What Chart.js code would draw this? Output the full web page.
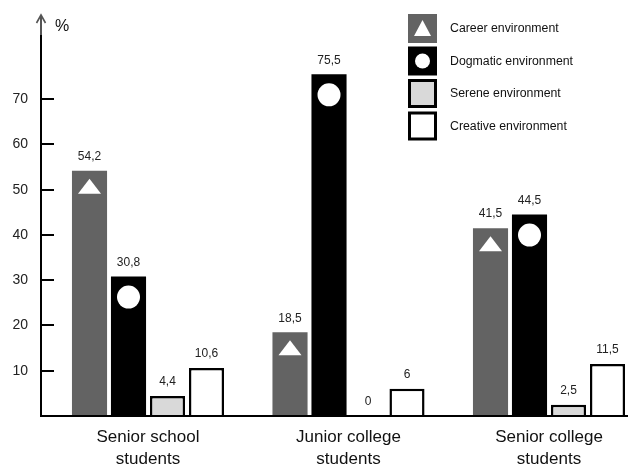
<!DOCTYPE html>
<html>
<head>
<meta charset="utf-8">
<script src="https://cdn.jsdelivr.net/npm/chart.js@4.4.0/dist/chart.umd.min.js"></script>
<style>
  html, body { margin: 0; padding: 0; background: #fff; }
  #wrap { width: 633px; height: 464px; position: relative; }
</style>
</head>
<body>
<div id="wrap"><canvas id="c"></canvas></div>
<script>
// Survey groups and their share (%) for each preferred environment
const categories = [
  ['Senior school', 'students'],
  ['Junior college', 'students'],
  ['Senior college', 'students']
];
const seriesNames = ['Career environment', 'Dogmatic environment', 'Serene environment', 'Creative environment'];
const career   = [54.2, 18.5, 41.5];
const dogmatic = [30.8, 75.5, 44.5];
const serene   = [4.4, 0, 2.5];
const creative = [10.6, 6, 11.5];
const yTicks = [10, 20, 30, 40, 50, 60, 70];
const markerShapes = ['triangle', 'circle', null, null];

const FONT = "'Liberation Sans', Arial, Helvetica, sans-serif";

function toPoints(values) {
  return values.map((v, i) => ({ x: i, y: v }));
}
function fmt(v) {
  return String(v).replace('.', ',');
}

function drawMarker(ctx, shape, cx, top, triW, triH, r) {
  ctx.save();
  ctx.fillStyle = '#fff';
  if (shape === 'triangle') {
    ctx.beginPath();
    ctx.moveTo(cx, top);
    ctx.lineTo(cx + triW / 2, top + triH);
    ctx.lineTo(cx - triW / 2, top + triH);
    ctx.closePath();
    ctx.fill();
  } else if (shape === 'circle') {
    ctx.beginPath();
    ctx.arc(cx, top + r, r, 0, Math.PI * 2);
    ctx.fill();
  }
  ctx.restore();
}

// Axes with inward ticks, arrow on the value axis, and the "%" unit
const axesPlugin = {
  id: 'axesDecor',
  afterDatasetsDraw(chart) {
    const ctx = chart.ctx;
    const area = chart.chartArea;
    const ys = chart.scales.y;
    const x0 = area.left;
    const yBase = ys.getPixelForValue(0);
    ctx.save();
    // value axis: grey near the arrow, black below
    ctx.lineWidth = 2;
    ctx.strokeStyle = '#555';
    ctx.beginPath();
    ctx.moveTo(x0, area.top + 1);
    ctx.lineTo(x0, area.top + 20);
    ctx.stroke();
    ctx.strokeStyle = '#000';
    ctx.beginPath();
    ctx.moveTo(x0, area.top + 20);
    ctx.lineTo(x0, yBase + 1);
    ctx.stroke();
    // arrow head
    ctx.strokeStyle = '#555';
    ctx.lineWidth = 1.6;
    ctx.beginPath();
    ctx.moveTo(x0 - 4.5, area.top + 8);
    ctx.lineTo(x0, area.top);
    ctx.lineTo(x0 + 4.5, area.top + 8);
    ctx.stroke();
    // category axis
    ctx.strokeStyle = '#000';
    ctx.lineWidth = 2;
    ctx.beginPath();
    ctx.moveTo(x0 - 1, yBase);
    ctx.lineTo(area.right, yBase);
    ctx.stroke();
    // inward tick marks
    ys.ticks.forEach(t => {
      const y = Math.round(ys.getPixelForValue(t.value));
      ctx.beginPath();
      ctx.moveTo(x0, y);
      ctx.lineTo(x0 + 13, y);
      ctx.stroke();
    });
    // unit
    ctx.fillStyle = '#111';
    ctx.font = '16px ' + FONT;
    ctx.textAlign = 'left';
    ctx.textBaseline = 'middle';
    ctx.fillText('%', x0 + 14, area.top + 12);
    ctx.restore();
  }
};

// Value labels above bars and white symbols inside bars
const barDecorPlugin = {
  id: 'barDecor',
  afterDatasetsDraw(chart) {
    const ctx = chart.ctx;
    chart.data.datasets.forEach((ds, di) => {
      const meta = chart.getDatasetMeta(di);
      meta.data.forEach((bar, i) => {
        const v = ds.data[i].y;
        ctx.save();
        ctx.fillStyle = '#222';
        ctx.font = '12px ' + FONT;
        ctx.textAlign = 'center';
        ctx.textBaseline = 'middle';
        ctx.fillText(fmt(v), bar.x, bar.y - 14);
        ctx.restore();
        const shape = markerShapes[di];
        if (shape && v > 0) {
          if (shape === 'triangle') drawMarker(ctx, shape, bar.x, bar.y + 8, 23, 15, 0);
          else drawMarker(ctx, shape, bar.x, bar.y + 9, 0, 0, 11.5);
        }
      });
    });
  }
};

// Legend: square swatches with symbols, stacked in the upper right
const legendPlugin = {
  id: 'boxLegend',
  afterDraw(chart) {
    const ctx = chart.ctx;
    const bx = 408, by = 14, size = 29, step = 32.5;
    chart.data.datasets.forEach((ds, i) => {
      const y = by + i * step;
      ctx.save();
      ctx.fillStyle = ds.backgroundColor;
      ctx.fillRect(bx, y, size, size);
      if (ds.borderWidth > 0) {
        ctx.strokeStyle = ds.borderColor;
        ctx.lineWidth = 3;
        ctx.strokeRect(bx + 1.5, y + 1.5, size - 3, size - 3);
      }
      ctx.restore();
      const shape = markerShapes[i];
      if (shape === 'triangle') drawMarker(ctx, shape, bx + size / 2, y + 6, 17, 16, 0);
      if (shape === 'circle') drawMarker(ctx, shape, bx + size / 2, y + size / 2 - 7.5, 0, 0, 7.5);
      ctx.save();
      ctx.fillStyle = '#111';
      ctx.font = '12.3px ' + FONT;
      ctx.textAlign = 'left';
      ctx.textBaseline = 'middle';
      ctx.fillText(ds.label, 450, y + size / 2 + 0.5);
      ctx.restore();
    });
  }
};

const data = {
  datasets: [
    { label: seriesNames[0], data: toPoints(career),   backgroundColor: '#636363', borderColor: '#636363', borderWidth: 0 },
    { label: seriesNames[1], data: toPoints(dogmatic), backgroundColor: '#000000', borderColor: '#000000', borderWidth: 0 },
    { label: seriesNames[2], data: toPoints(serene),   backgroundColor: '#d9d9d9', borderColor: '#000000', borderWidth: 2.5 },
    { label: seriesNames[3], data: toPoints(creative), backgroundColor: '#ffffff', borderColor: '#000000', borderWidth: 2.5 }
  ]
};

new Chart(document.getElementById('c'), {
  type: 'bar',
  data,
  options: {
    responsive: true,
    maintainAspectRatio: false,
    animation: false,
    layout: { padding: { top: 15, right: 5, left: 0, bottom: 0 } },
    datasets: {
      bar: { categoryPercentage: 0.778, barPercentage: 0.9, borderSkipped: 'start' }
    },
    plugins: {
      legend: { display: false },
      tooltip: { enabled: false }
    },
    scales: {
      x: {
        type: 'linear',
        offset: false,
        min: -0.5337,
        max: 2.394,
        grid: { display: false, drawTicks: false },
        border: { display: false },
        afterBuildTicks(scale) {
          scale.ticks = categories.map((_, i) => ({ value: i }));
        },
        afterFit(scale) {
          scale.height = 48;
          scale.paddingLeft = 0;
          scale.paddingRight = 0;
        },
        ticks: {
          padding: 11,
          color: '#111',
          font: { family: FONT, size: 17, lineHeight: 1.25 },
          maxRotation: 0,
          autoSkip: false,
          callback: (value) => categories[value]
        }
      },
      y: {
        min: 0,
        max: 88.6,
        grid: { display: false, drawTicks: false },
        border: { display: false },
        afterBuildTicks(scale) {
          scale.ticks = yTicks.map(v => ({ value: v }));
        },
        afterFit(scale) {
          scale.width = 41;
          scale.paddingTop = 0;
          scale.paddingBottom = 0;
        },
        ticks: {
          padding: 13,
          color: '#222',
          font: { family: FONT, size: 14 }
        }
      }
    }
  },
  plugins: [axesPlugin, barDecorPlugin, legendPlugin]
});
</script>
</body>
</html>
